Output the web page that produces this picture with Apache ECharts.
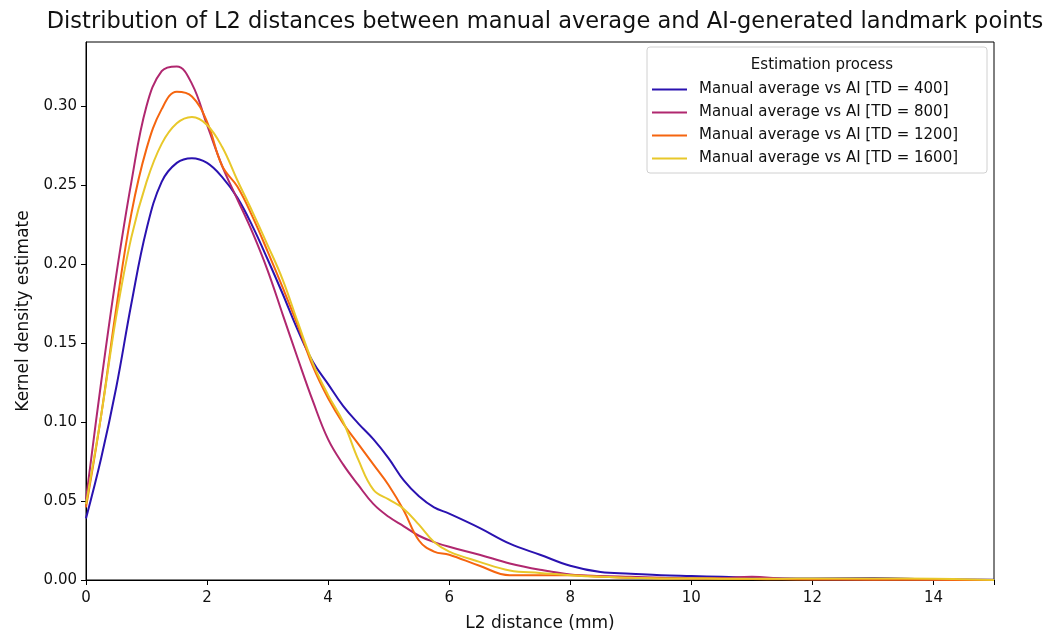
<!DOCTYPE html>
<html>
<head>
<meta charset="utf-8">
<script src="https://cdn.jsdelivr.net/npm/echarts@6/dist/echarts.min.js"></script>
<style>
  html, body { margin: 0; padding: 0; background: #fff; }
  #chart { width: 1046px; height: 633px; }
</style>
</head>
<body>
<div id="chart"></div>
<script>
// L2 distance (mm) sample points
const xs = [0, 0.25, 0.5, 0.75, 1, 1.25, 1.5, 1.75, 2, 2.25, 2.5, 2.75, 3, 3.25, 3.5, 3.75, 4, 4.25, 4.5, 4.75,
  5, 5.25, 5.5, 5.75, 6, 6.5, 7, 7.5, 8, 8.5, 9, 9.5, 10, 10.5, 11, 11.5, 12, 13, 14, 15]

// kernel density estimates
const td400 = [0.039, 0.077, 0.122, 0.175, 0.222, 0.252, 0.264, 0.267, 0.264, 0.255, 0.242, 0.224, 0.203, 0.181,
  0.158, 0.138, 0.124, 0.110, 0.099, 0.089, 0.077, 0.063, 0.053, 0.046, 0.042, 0.033, 0.023, 0.016, 0.009, 0.005,
  0.004, 0.003, 0.0025, 0.002, 0.0015, 0.001, 0.001, 0.0012, 0.0005, 0.0002]
const td800 = [0.051, 0.125, 0.193, 0.252, 0.300, 0.322, 0.325, 0.314, 0.288, 0.262, 0.241, 0.220, 0.196, 0.168,
  0.140, 0.113, 0.089, 0.073, 0.060, 0.048, 0.040, 0.034, 0.028, 0.024, 0.021, 0.016, 0.0105, 0.0065, 0.0035, 0.0025,
  0.002, 0.0015, 0.001, 0.0012, 0.002, 0.001, 0.0005, 0.0003, 0.0002, 0]
const td1200 = [0.046, 0.104, 0.172, 0.232, 0.273, 0.298, 0.309, 0.306, 0.290, 0.262, 0.249, 0.230, 0.208, 0.185,
  0.161, 0.135, 0.115, 0.099, 0.086, 0.073, 0.060, 0.044, 0.025, 0.018, 0.016, 0.009, 0.003, 0.003, 0.003, 0.002,
  0.0015, 0.001, 0.001, 0.0008, 0.0006, 0.0004, 0.0003, 0.0002, 0.0001, 0]
const td1600 = [0.048, 0.104, 0.167, 0.217, 0.252, 0.276, 0.289, 0.293, 0.288, 0.274, 0.253, 0.233, 0.212, 0.190,
  0.163, 0.137, 0.117, 0.100, 0.076, 0.057, 0.051, 0.045, 0.035, 0.024, 0.018, 0.0115, 0.006, 0.0045, 0.003, 0.002,
  0.0015, 0.001, 0.001, 0.0008, 0.0008, 0.0008, 0.001, 0.001, 0.0008, 0]

const names = [
  'Manual average vs AI [TD = 400]',
  'Manual average vs AI [TD = 800]',
  'Manual average vs AI [TD = 1200]',
  'Manual average vs AI [TD = 1600]',
]
const colors = ['#2a12b0', '#b0276f', '#f5650f', '#e8c82a']
const values = [td400, td800, td1200, td1600]

const font = 'DejaVu Sans, sans-serif'
const chart = echarts.init(document.getElementById('chart'), null, { renderer: 'canvas' })

chart.setOption({
  animation: false,
  textStyle: { fontFamily: font },
  title: [{
    text: 'Distribution of L2 distances between manual average and AI-generated landmark points',
    left: 540, top: 6, textAlign: 'center',
    textStyle: { fontFamily: font, fontSize: 22.5, fontWeight: 'normal', color: '#111' },
  }, {
    text: 'Estimation process',
    left: 817, top: 53, textAlign: 'center',
    textStyle: { fontFamily: font, fontSize: 15, fontWeight: 'normal', color: '#111' },
  }],
  graphic: [{
    type: 'rect',
    shape: { x: 647, y: 47, width: 340, height: 126, r: 3 },
    style: { fill: 'rgba(255,255,255,0.8)', stroke: '#d0d0d0', lineWidth: 1 },
    z: 5,
  }],
  legend: {
    data: names,
    orient: 'vertical',
    left: 647, top: 77,
    icon: 'rect',
    itemWidth: 35, itemHeight: 2, itemGap: 8,
    textStyle: { fontFamily: font, fontSize: 15, color: '#111', padding: [0, 0, 0, 7], height: 15, lineHeight: 15 },
    z: 6,
  },
  grid: {
    left: 86, right: 52, top: 42, bottom: 53,
    outerBoundsMode: 'none',
    show: true, borderColor: '#000', borderWidth: 1, backgroundColor: 'transparent',
  },
  xAxis: {
    type: 'value', min: 0, max: 15, interval: 2,
    name: 'L2 distance (mm)', nameLocation: 'middle', nameGap: 35,
    nameTextStyle: { fontFamily: font, fontSize: 17, color: '#111' },
    axisLine: { lineStyle: { color: '#000' } },
    axisTick: { show: true, length: 5, lineStyle: { color: '#000' } },
    axisLabel: { fontFamily: font, fontSize: 15, color: '#111', margin: 11,
      formatter: v => (v % 2 === 0 ? String(v) : '') },
    splitLine: { show: false },
  },
  yAxis: {
    type: 'value', min: 0, max: 0.3405, interval: 0.05,
    name: 'Kernel density estimate', nameLocation: 'middle', nameGap: 54,
    nameTextStyle: { fontFamily: font, fontSize: 17, color: '#111' },
    axisLine: { show: true, lineStyle: { color: '#000' } },
    axisTick: { show: true, length: 5, lineStyle: { color: '#000' } },
    axisLabel: { fontFamily: font, fontSize: 15, color: '#111', margin: 9, showMaxLabel: false,
      formatter: v => (Math.abs(v / 0.05 - Math.round(v / 0.05)) < 1e-6 ? v.toFixed(2) : '') },
    splitLine: { show: false },
  },
  series: values.map((ys, i) => ({
    name: names[i],
    type: 'line',
    smooth: 0.4,
    symbol: 'none',
    color: colors[i],
    lineStyle: { width: 2, color: colors[i] },
    data: xs.map((x, j) => [x, ys[j]]),
  })),
})
</script>
</body>
</html>
